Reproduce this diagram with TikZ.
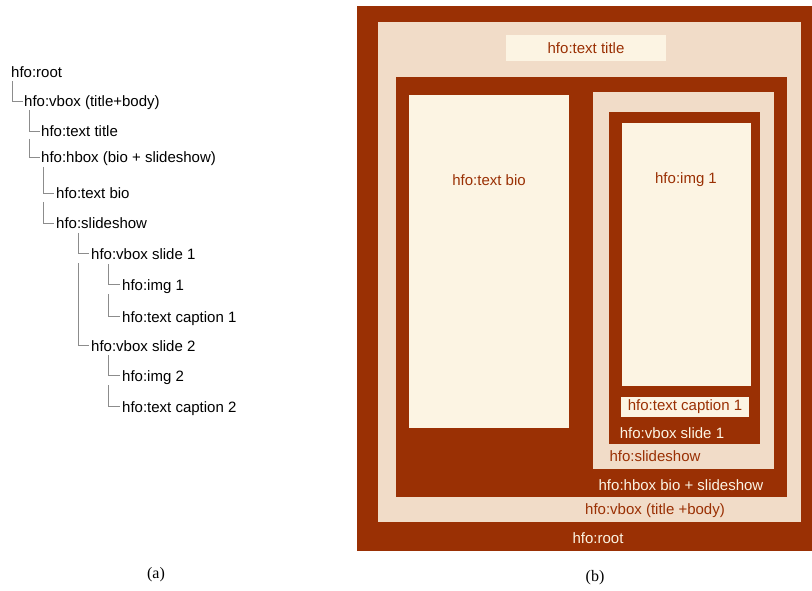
\documentclass[tikz,border=0pt]{standalone}
\usepackage{fontspec}
\setmainfont{Liberation Sans}
\newfontfamily\capfont{Liberation Serif}
\begin{document}
\begin{tikzpicture}[x=1pt,y=-1pt,
  every node/.style={inner sep=0pt,font=\fontsize{15}{17}\selectfont},
  item/.style={anchor=base west},
  tl/.style={draw=black!45,line width=0.9pt},
  lbldark/.style={text=rust},
  lbllight/.style={text=cream},
  sub/.style={font=\capfont\fontsize{16}{18}\selectfont}]
\definecolor{rust}{HTML}{9A3004}
\definecolor{tan}{HTML}{F1DCC8}
\definecolor{cream}{HTML}{FCF4E3}
\useasboundingbox (0,0) rectangle (812,591);
% ---- tree (a)
\node[item] (root) at (11,78) {hfo:root};
\node[item] (vbox) at (24,107) {hfo:vbox (title+body)};
\node[item] (title) at (41,137) {hfo:text title};
\node[item] (hbox) at (41,163) {hfo:hbox (bio + slideshow)};
\node[item] (bio) at (56,199) {hfo:text bio};
\node[item] (slides) at (56,229) {hfo:slideshow};
\node[item] (slide1) at (91,259) {hfo:vbox slide 1};
\node[item] (img1) at (122,290) {hfo:img 1};
\node[item] (cap1) at (122,322) {hfo:text caption 1};
\node[item] (slide2) at (91,351) {hfo:vbox slide 2};
\node[item] (img2) at (122,381) {hfo:img 2};
\node[item] (cap2) at (122,412) {hfo:text caption 2};
\coordinate (t1) at (12,81);
\coordinate (t2) at (29,110);
\coordinate (t3) at (29,139);
\coordinate (t4) at (43,167);
\coordinate (t5) at (43,202);
\coordinate (t6) at (78,233);
\coordinate (t7) at (78,263);
\coordinate (t8) at (108,264);
\coordinate (t9) at (108,294);
\coordinate (t10) at (108,355);
\coordinate (t11) at (108,385);
\draw[tl] (t1) |- ([xshift=-1pt,yshift=6pt]vbox.base west);
\draw[tl] (t2) |- ([xshift=-1pt,yshift=6pt]title.base west);
\draw[tl] (t3) |- ([xshift=-1pt,yshift=6pt]hbox.base west);
\draw[tl] (t4) |- ([xshift=-2pt,yshift=6pt]bio.base west);
\draw[tl] (t5) |- ([xshift=-2pt,yshift=6pt]slides.base west);
\draw[tl] (t6) |- ([xshift=-2pt,yshift=6pt]slide1.base west);
\draw[tl] (t7) |- ([xshift=-2pt,yshift=6pt]slide2.base west);
\draw[tl] (t8) |- ([xshift=-2pt,yshift=6pt]img1.base west);
\draw[tl] (t9) |- ([xshift=-2pt,yshift=6pt]cap1.base west);
\draw[tl] (t10) |- ([xshift=-2pt,yshift=6pt]img2.base west);
\draw[tl] (t11) |- ([xshift=-2pt,yshift=6pt]cap2.base west);
% ---- boxes (b)
\fill[rust] (357,6) rectangle (812,551);
\fill[tan] (378,22) rectangle (801,522);
\fill[cream] (506,35) rectangle (666,61);
\fill[rust] (396,77) rectangle (787,497);
\fill[cream] (409,95) rectangle (569,428);
\fill[tan] (593,92) rectangle (774,469);
\fill[rust] (609,112) rectangle (760,444);
\fill[cream] (622,123) rectangle (751,386);
\fill[cream] (621,397) rectangle (749,417);
\node[lbldark] (ltitle) at (586,48) {hfo:text title};
\node[lbldark] (lbio) at (489,180) {hfo:text bio};
\node[lbldark] (limg) at (686,180) {hfo:img 1};
\node[lbldark] (lcap) at (685,407) {hfo:text caption 1};
\node[lbllight] (lslide) at (672,433) {hfo:vbox slide 1};
\node[lbldark] (lshow) at (655,456) {hfo:slideshow};
\node[lbllight] (lhbox) at (681,485) {hfo:hbox bio + slideshow};
\node[lbldark] (lvbox) at (655,511) {hfo:vbox (title +body)};
\node[lbllight] (lroot) at (598,538) {hfo:root};
% ---- sub captions
\node[sub] (suba) at (156,575) {(a)};
\node[sub] (subb) at (595,578) {(b)};
\end{tikzpicture}
\end{document}
